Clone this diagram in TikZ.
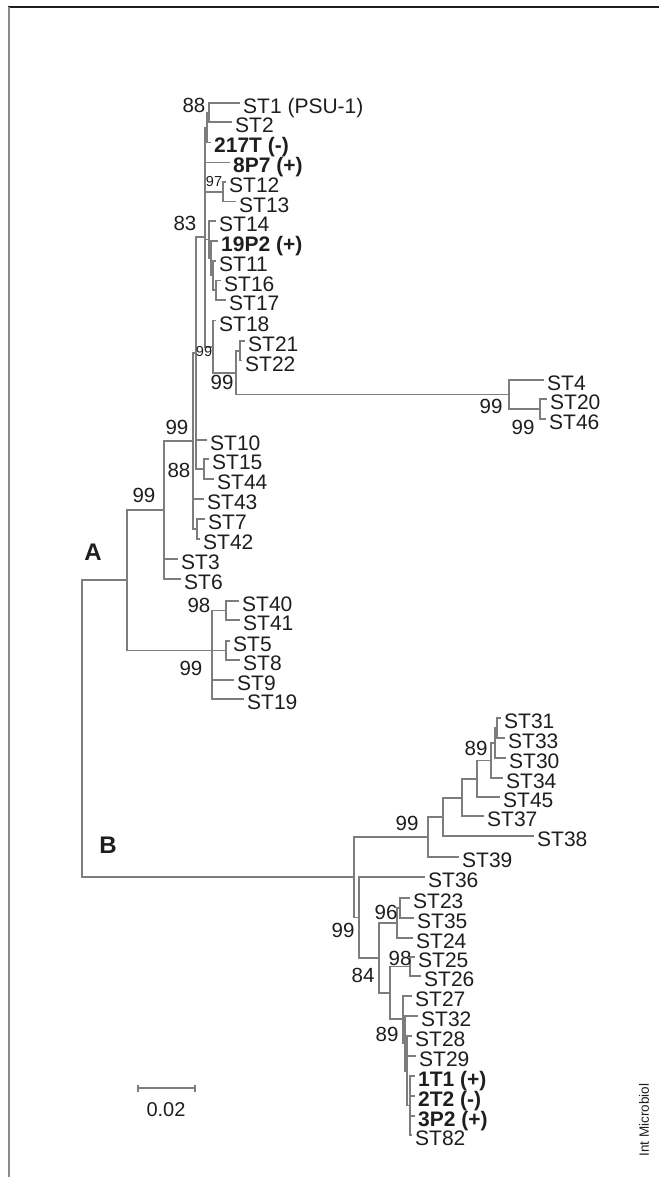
\documentclass[tikz,border=0pt]{standalone}
\usepackage{fontspec}
\setmainfont{Liberation Sans}
\definecolor{treegray}{RGB}{125,125,125}
\definecolor{ink}{RGB}{30,30,30}
\definecolor{rulegray}{RGB}{140,140,140}
\newcommand\leaffont{\fontsize{21}{21}\selectfont}
\newcommand\bootfont{\fontsize{20.5}{20.5}\selectfont}
\newcommand\smallboot{\fontsize{14.5}{14.5}\selectfont}
% leaf: coordinate at the branch tip plus its label
\newcommand\tipleaf[5][]{%
  \coordinate (#2) at (#3,#4);
  \node[lbl,#1] (#2-t) at ([xshift=3pt,yshift=-10.5pt]#2) {#5};}
% draw the elbow branches from a node to its children
\newcommand\kids[2]{\foreach \c in {#2}{\draw[br] (#1) |- (\c);}}
\tikzset{
  br/.style={draw=treegray, line width=1.2pt},
  lbl/.style={font=\leaffont, text=ink, inner sep=0pt, anchor=base west},
  strong/.style={font=\leaffont\bfseries},
  boot/.style={font=\bootfont, text=ink, inner sep=0pt},
  sboot/.style={font=\smallboot, text=ink, inner sep=0pt},
}
\begin{document}
\begin{tikzpicture}[x=1pt,y=-1pt]
\useasboundingbox (0,0) rectangle (659,1177);
\fill[white] (0,0) rectangle (659,1177);
% frame
\draw[ink, line width=1.5pt] (8,7) -- (659,7);
\draw[rulegray, line width=2pt] (9,7) -- (9,1177);

\begin{scope}[yshift=2pt]
% ---------- clade A : leaves ----------
\tipleaf{ST1}{240}{105}{ST1 (PSU-1)}
\tipleaf{ST2}{232}{124}{ST2}
\tipleaf[strong]{217T}{211}{144.5}{217T (-)}
\tipleaf[strong]{8P7}{230}{164.5}{8P7 (+)}
\tipleaf{ST12}{226}{184}{ST12}
\tipleaf{ST13}{236}{203.5}{ST13}
\tipleaf{ST14}{216}{223}{ST14}
\tipleaf[strong]{19P2}{218}{243}{19P2 (+)}
\tipleaf{ST11}{216}{263}{ST11}
\tipleaf{ST16}{221}{282.5}{ST16}
\tipleaf{ST17}{226}{302}{ST17}
\tipleaf{ST18}{216}{322.5}{ST18}
\tipleaf{ST21}{245}{343}{ST21}
\tipleaf{ST22}{242}{362.5}{ST22}
\tipleaf{ST4}{544}{382}{ST4}
\tipleaf{ST20}{547}{401}{ST20}
\tipleaf{ST46}{546}{421}{ST46}
\tipleaf{ST10}{207}{442}{ST10}
\tipleaf{ST15}{209}{461}{ST15}
\tipleaf{ST44}{214}{481}{ST44}
\tipleaf{ST43}{204}{501}{ST43}
\tipleaf{ST7}{205}{521}{ST7}
\tipleaf{ST42}{200}{541}{ST42}
\tipleaf{ST3}{178}{561}{ST3}
\tipleaf{ST6}{181}{581}{ST6}
\tipleaf{ST40}{239}{603}{ST40}
\tipleaf{ST41}{240}{622}{ST41}
\tipleaf{ST5}{230}{643}{ST5}
\tipleaf{ST8}{240}{662}{ST8}
\tipleaf{ST9}{234}{682}{ST9}
\tipleaf{ST19}{244}{701}{ST19}

% ---------- clade B : leaves ----------
\tipleaf{ST31}{501}{720}{ST31}
\tipleaf{ST33}{505}{740}{ST33}
\tipleaf{ST30}{506}{760}{ST30}
\tipleaf{ST34}{503}{780}{ST34}
\tipleaf{ST45}{500}{799}{ST45}
\tipleaf{ST37}{484}{818}{ST37}
\tipleaf{ST38}{534}{838}{ST38}
\tipleaf{ST39}{459}{859}{ST39}
\tipleaf{ST36}{425}{879}{ST36}
\tipleaf{ST23}{410}{900}{ST23}
\tipleaf{ST35}{414}{920}{ST35}
\tipleaf{ST24}{413}{940}{ST24}
\tipleaf{ST25}{415}{959}{ST25}
\tipleaf{ST26}{421}{978}{ST26}
\tipleaf{ST27}{412}{998}{ST27}
\tipleaf{ST32}{418}{1018}{ST32}
\tipleaf{ST28}{412}{1038}{ST28}
\tipleaf{ST29}{416}{1058}{ST29}
\tipleaf[strong]{1T1}{415}{1078}{1T1 (+)}
\tipleaf[strong]{2T2}{415}{1098}{2T2 (-)}
\tipleaf[strong]{3P2}{415}{1118}{3P2 (+)}
\tipleaf{ST82}{412}{1137}{ST82}

% ---------- internal nodes ----------
\coordinate (n88a) at (209,114.5);
\coordinate (n207) at (207,129.5);
\coordinate (n97) at (223,194);
\coordinate (nJ) at (216,292);
\coordinate (nI) at (213,277.5);
\coordinate (nH) at (211,260);
\coordinate (nG) at (209,241.5);
\coordinate (n2122) at (240,353);
\coordinate (n540) at (540,411);
\coordinate (n509) at (509,396.5);
\coordinate (n236) at (236,375);
\coordinate (n213) at (213,349);
\coordinate (n205) at (205,239);
\coordinate (n1544) at (204,471);
\coordinate (n196) at (196,355);
\coordinate (n742) at (197,531);
\coordinate (n193) at (193,443);
\coordinate (nA1) at (164,512);
\coordinate (n4041) at (226,612.5);
\coordinate (n58) at (226,652.5);
\coordinate (nA2) at (212,652.5);
\coordinate (nA) at (127,582);

\coordinate (nS) at (497,730);
\coordinate (nT) at (495,745);
\coordinate (n89b) at (491,762.5);
\coordinate (nZ) at (477,781);
\coordinate (nW) at (462,800);
\coordinate (nV) at (443,819);
\coordinate (nU) at (428,839);
\coordinate (n2335) at (400,910);
\coordinate (n96) at (397,925);
\coordinate (n98) at (410,968.5);
\coordinate (nY) at (410,1107.5);
\coordinate (nX) at (407,1073);
\coordinate (nX2) at (405,1045);
\coordinate (n89) at (403,1021);
\coordinate (nL3) at (390,995);
\coordinate (nL2) at (379,960);
\coordinate (nL) at (359,919.5);
\coordinate (nB) at (354,879);
\coordinate (root) at (82,731);

% ---------- branches ----------
\kids{n88a}{ST1,ST2}
\kids{n207}{n88a,217T}
\kids{n97}{ST12,ST13}
\kids{nJ}{ST16,ST17}
\kids{nI}{ST11,nJ}
\kids{nH}{19P2,nI}
\kids{nG}{ST14,nH}
\kids{n2122}{ST21,ST22}
\kids{n540}{ST20,ST46}
\kids{n509}{ST4,n540}
\kids{n236}{n2122,n509}
\kids{n213}{ST18,n236}
\kids{n205}{n207,8P7,n97,nG,n213}
\kids{n1544}{ST15,ST44}
\kids{n196}{n205,ST10,n1544}
\kids{n742}{ST7,ST42}
\kids{n193}{n196,ST43,n742}
\kids{nA1}{n193,ST3,ST6}
\kids{n4041}{ST40,ST41}
\kids{n58}{ST5,ST8}
\kids{nA2}{n4041,n58,ST9,ST19}
\kids{nA}{nA1,nA2}

\kids{nS}{ST31,ST33}
\kids{nT}{nS,ST30}
\kids{n89b}{nT,ST34}
\kids{nZ}{n89b,ST45}
\kids{nW}{nZ,ST37}
\kids{nV}{nW,ST38}
\kids{nU}{nV,ST39}
\kids{n2335}{ST23,ST35}
\kids{n96}{n2335,ST24}
\kids{n98}{ST25,ST26}
\kids{nY}{1T1,2T2,3P2,ST82}
\kids{nX}{ST28,ST29,nY}
\kids{nX2}{ST32,nX}
\kids{n89}{ST27,nX2}
\kids{nL3}{n98,n89}
\kids{nL2}{n96,nL3}
\kids{nL}{ST36,nL2}
\kids{nB}{nU,nL}
\kids{root}{nA,nB}
\end{scope}

% ---------- bootstrap values ----------
\node[boot] (b1) at (194,105) {88};
\node[sboot] (b2) at (214,182) {97};
\node[boot] (b3) at (185,223) {83};
\node[sboot] (b4) at (204,352) {99};
\node[boot] (b5) at (222,382) {99};
\node[boot] (b6) at (491,406) {99};
\node[boot] (b7) at (523,427) {99};
\node[boot] (b8) at (177,427) {99};
\node[boot] (b9) at (179,470) {88};
\node[boot] (b10) at (144,495) {99};
\node[boot] (b11) at (199,605) {98};
\node[boot] (b12) at (191,668) {99};
\node[boot] (b13) at (476,748) {89};
\node[boot] (b14) at (407,823) {99};
\node[boot] (b15) at (343,930) {99};
\node[boot] (b16) at (386,912) {96};
\node[boot] (b17) at (400,958) {98};
\node[boot] (b18) at (363,975) {84};
\node[boot] (b19) at (387,1034) {89};

% ---------- clade letters ----------
\node[font=\fontsize{24}{24}\selectfont\bfseries, text=ink, inner sep=0pt] (cA) at (93,552) {A};
\node[font=\fontsize{24}{24}\selectfont\bfseries, text=ink, inner sep=0pt] (cB) at (108,845) {B};

% ---------- scale bar ----------
\coordinate (sb1) at (138,1088);
\coordinate (sb2) at (195,1088);
\draw[br] (sb1) -- (sb2);
\draw[br] ([yshift=3.5pt]sb1) -- ([yshift=-3.5pt]sb1);
\draw[br] ([yshift=3.5pt]sb2) -- ([yshift=-3.5pt]sb2);
\node[font=\fontsize{20}{20}\selectfont, text=ink, inner sep=0pt] (sbl) at (166,1110) {0.02};

% ---------- journal tag ----------
\node[rotate=90, font=\fontsize{13.5}{13.5}\selectfont, text=ink, inner sep=0pt] (journal) at (644,1120) {Int Microbiol};
\end{tikzpicture}
\end{document}
